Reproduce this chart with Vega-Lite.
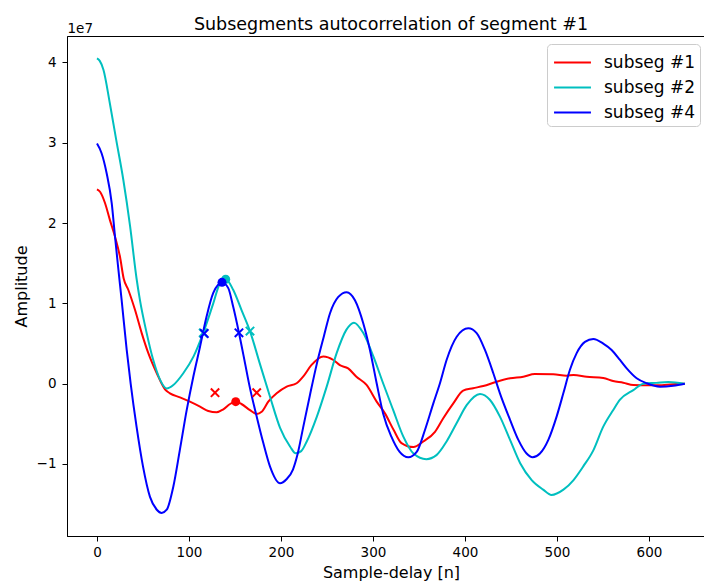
{
  "$schema": "https://vega.github.io/schema/vega-lite/v6.json",
  "width": 638,
  "height": 500,
  "autosize": "none",
  "padding": {"left": 67, "top": 36, "right": 0, "bottom": 47},
  "background": "white",
  "config": {
    "font": "DejaVu Sans",
    "view": {"stroke": "black", "strokeWidth": 1},
    "axis": {
      "grid": false,
      "domainColor": "black",
      "tickColor": "black",
      "labelColor": "black",
      "titleColor": "black",
      "labelFont": "DejaVu Sans",
      "titleFont": "DejaVu Sans",
      "labelFontSize": 13.5,
      "titleFontSize": 16,
      "titleFontWeight": "normal",
      "tickSize": 5,
      "tickWidth": 1
    }
  },
  "title": {
    "text": "Subsegments autocorrelation of segment #1",
    "font": "DejaVu Sans",
    "fontSize": 17.5,
    "fontWeight": "normal",
    "color": "black",
    "dx": 5,
    "offset": -12
  },
  "datasets": {
    "curves": [
      {"series": "subseg #1", "n": 0, "amp": 2.42e7},
      {"series": "subseg #1", "n": 3.3, "amp": 2.39e7},
      {"series": "subseg #1", "n": 8.7, "amp": 2.25e7},
      {"series": "subseg #1", "n": 14, "amp": 2.04e7},
      {"series": "subseg #1", "n": 19.6, "amp": 1.83e7},
      {"series": "subseg #1", "n": 25, "amp": 1.58e7},
      {"series": "subseg #1", "n": 29, "amp": 1.31e7},
      {"series": "subseg #1", "n": 34, "amp": 1.17e7},
      {"series": "subseg #1", "n": 41.3, "amp": 0.92e7},
      {"series": "subseg #1", "n": 48.6, "amp": 0.63e7},
      {"series": "subseg #1", "n": 55.8, "amp": 0.38e7},
      {"series": "subseg #1", "n": 65, "amp": 0.13e7},
      {"series": "subseg #1", "n": 73.9, "amp": -0.07e7},
      {"series": "subseg #1", "n": 79.3, "amp": -0.12e7},
      {"series": "subseg #1", "n": 90.2, "amp": -0.17e7},
      {"series": "subseg #1", "n": 101, "amp": -0.224e7},
      {"series": "subseg #1", "n": 112, "amp": -0.286e7},
      {"series": "subseg #1", "n": 121, "amp": -0.34e7},
      {"series": "subseg #1", "n": 130, "amp": -0.356e7},
      {"series": "subseg #1", "n": 137.3, "amp": -0.32e7},
      {"series": "subseg #1", "n": 144.6, "amp": -0.253e7},
      {"series": "subseg #1", "n": 150.8, "amp": -0.224e7},
      {"series": "subseg #1", "n": 157, "amp": -0.253e7},
      {"series": "subseg #1", "n": 166.3, "amp": -0.33e7},
      {"series": "subseg #1", "n": 173.6, "amp": -0.377e7},
      {"series": "subseg #1", "n": 179, "amp": -0.35e7},
      {"series": "subseg #1", "n": 186.2, "amp": -0.224e7},
      {"series": "subseg #1", "n": 195.3, "amp": -0.12e7},
      {"series": "subseg #1", "n": 206.2, "amp": -0.037e7},
      {"series": "subseg #1", "n": 217, "amp": 0.005e7},
      {"series": "subseg #1", "n": 224.3, "amp": 0.09e7},
      {"series": "subseg #1", "n": 233, "amp": 0.23e7},
      {"series": "subseg #1", "n": 246, "amp": 0.34e7},
      {"series": "subseg #1", "n": 257, "amp": 0.295e7},
      {"series": "subseg #1", "n": 264, "amp": 0.23e7},
      {"series": "subseg #1", "n": 273, "amp": 0.19e7},
      {"series": "subseg #1", "n": 282, "amp": 0.087e7},
      {"series": "subseg #1", "n": 293, "amp": -0.016e7},
      {"series": "subseg #1", "n": 304, "amp": -0.224e7},
      {"series": "subseg #1", "n": 313, "amp": -0.37e7},
      {"series": "subseg #1", "n": 322.5, "amp": -0.577e7},
      {"series": "subseg #1", "n": 331, "amp": -0.74e7},
      {"series": "subseg #1", "n": 344, "amp": -0.79e7},
      {"series": "subseg #1", "n": 354.7, "amp": -0.72e7},
      {"series": "subseg #1", "n": 367.4, "amp": -0.6e7},
      {"series": "subseg #1", "n": 376.4, "amp": -0.43e7},
      {"series": "subseg #1", "n": 387.3, "amp": -0.245e7},
      {"series": "subseg #1", "n": 398, "amp": -0.087e7},
      {"series": "subseg #1", "n": 408.8, "amp": -0.057e7},
      {"series": "subseg #1", "n": 419.9, "amp": -0.029e7},
      {"series": "subseg #1", "n": 434.5, "amp": 0.025e7},
      {"series": "subseg #1", "n": 449, "amp": 0.067e7},
      {"series": "subseg #1", "n": 463.4, "amp": 0.087e7},
      {"series": "subseg #1", "n": 476, "amp": 0.12e7},
      {"series": "subseg #1", "n": 496, "amp": 0.117e7},
      {"series": "subseg #1", "n": 510.5, "amp": 0.1e7},
      {"series": "subseg #1", "n": 518, "amp": 0.108e7},
      {"series": "subseg #1", "n": 532.3, "amp": 0.087e7},
      {"series": "subseg #1", "n": 550.3, "amp": 0.071e7},
      {"series": "subseg #1", "n": 561, "amp": 0.033e7},
      {"series": "subseg #1", "n": 572, "amp": 0.0125e7},
      {"series": "subseg #1", "n": 583, "amp": -0.016e7},
      {"series": "subseg #1", "n": 597.5, "amp": -0.02e7},
      {"series": "subseg #1", "n": 612, "amp": -0.02e7},
      {"series": "subseg #1", "n": 634, "amp": 0},
      {"series": "subseg #1", "n": 639, "amp": 0},

      {"series": "subseg #2", "n": 0, "amp": 4.05e7},
      {"series": "subseg #2", "n": 3, "amp": 4.02e7},
      {"series": "subseg #2", "n": 7, "amp": 3.91e7},
      {"series": "subseg #2", "n": 14, "amp": 3.49e7},
      {"series": "subseg #2", "n": 21, "amp": 3.03e7},
      {"series": "subseg #2", "n": 28.6, "amp": 2.54e7},
      {"series": "subseg #2", "n": 36, "amp": 1.96e7},
      {"series": "subseg #2", "n": 43, "amp": 1.31e7},
      {"series": "subseg #2", "n": 46.7, "amp": 1.04e7},
      {"series": "subseg #2", "n": 54, "amp": 0.63e7},
      {"series": "subseg #2", "n": 61, "amp": 0.3e7},
      {"series": "subseg #2", "n": 68.5, "amp": 0.05e7},
      {"series": "subseg #2", "n": 75.7, "amp": -0.06e7},
      {"series": "subseg #2", "n": 83, "amp": -0.016e7},
      {"series": "subseg #2", "n": 93.8, "amp": 0.13e7},
      {"series": "subseg #2", "n": 105, "amp": 0.34e7},
      {"series": "subseg #2", "n": 115.5, "amp": 0.633e7},
      {"series": "subseg #2", "n": 126.4, "amp": 1.0e7},
      {"series": "subseg #2", "n": 133.7, "amp": 1.25e7},
      {"series": "subseg #2", "n": 140, "amp": 1.3e7},
      {"series": "subseg #2", "n": 148, "amp": 1.17e7},
      {"series": "subseg #2", "n": 157, "amp": 0.92e7},
      {"series": "subseg #2", "n": 166.3, "amp": 0.655e7},
      {"series": "subseg #2", "n": 177, "amp": 0.25e7},
      {"series": "subseg #2", "n": 188, "amp": -0.16e7},
      {"series": "subseg #2", "n": 199, "amp": -0.55e7},
      {"series": "subseg #2", "n": 210, "amp": -0.785e7},
      {"series": "subseg #2", "n": 216, "amp": -0.867e7},
      {"series": "subseg #2", "n": 222, "amp": -0.84e7},
      {"series": "subseg #2", "n": 228, "amp": -0.72e7},
      {"series": "subseg #2", "n": 239, "amp": -0.41e7},
      {"series": "subseg #2", "n": 249.6, "amp": -0.04e7},
      {"series": "subseg #2", "n": 260.5, "amp": 0.38e7},
      {"series": "subseg #2", "n": 271, "amp": 0.67e7},
      {"series": "subseg #2", "n": 279.3, "amp": 0.76e7},
      {"series": "subseg #2", "n": 289.5, "amp": 0.63e7},
      {"series": "subseg #2", "n": 300.4, "amp": 0.34e7},
      {"series": "subseg #2", "n": 311, "amp": 0.005e7},
      {"series": "subseg #2", "n": 322, "amp": -0.33e7},
      {"series": "subseg #2", "n": 333, "amp": -0.66e7},
      {"series": "subseg #2", "n": 344, "amp": -0.87e7},
      {"series": "subseg #2", "n": 358, "amp": -0.94e7},
      {"series": "subseg #2", "n": 369, "amp": -0.89e7},
      {"series": "subseg #2", "n": 380, "amp": -0.72e7},
      {"series": "subseg #2", "n": 391, "amp": -0.49e7},
      {"series": "subseg #2", "n": 402, "amp": -0.265e7},
      {"series": "subseg #2", "n": 416.3, "amp": -0.128e7},
      {"series": "subseg #2", "n": 427, "amp": -0.2e7},
      {"series": "subseg #2", "n": 438, "amp": -0.41e7},
      {"series": "subseg #2", "n": 449, "amp": -0.7e7},
      {"series": "subseg #2", "n": 460, "amp": -0.99e7},
      {"series": "subseg #2", "n": 472.5, "amp": -1.2e7},
      {"series": "subseg #2", "n": 485, "amp": -1.32e7},
      {"series": "subseg #2", "n": 494, "amp": -1.386e7},
      {"series": "subseg #2", "n": 507, "amp": -1.32e7},
      {"series": "subseg #2", "n": 518, "amp": -1.2e7},
      {"series": "subseg #2", "n": 528.6, "amp": -1.03e7},
      {"series": "subseg #2", "n": 539.5, "amp": -0.83e7},
      {"series": "subseg #2", "n": 550.3, "amp": -0.535e7},
      {"series": "subseg #2", "n": 561, "amp": -0.33e7},
      {"series": "subseg #2", "n": 568.5, "amp": -0.2e7},
      {"series": "subseg #2", "n": 583, "amp": -0.08e7},
      {"series": "subseg #2", "n": 594, "amp": 0},
      {"series": "subseg #2", "n": 608, "amp": 0.01e7},
      {"series": "subseg #2", "n": 621, "amp": 0.02e7},
      {"series": "subseg #2", "n": 639, "amp": 0},

      {"series": "subseg #4", "n": 0, "amp": 2.99e7},
      {"series": "subseg #4", "n": 5, "amp": 2.87e7},
      {"series": "subseg #4", "n": 10.5, "amp": 2.62e7},
      {"series": "subseg #4", "n": 16, "amp": 2.25e7},
      {"series": "subseg #4", "n": 19.6, "amp": 1.83e7},
      {"series": "subseg #4", "n": 23, "amp": 1.45e7},
      {"series": "subseg #4", "n": 26.8, "amp": 1.04e7},
      {"series": "subseg #4", "n": 32.3, "amp": 0.42e7},
      {"series": "subseg #4", "n": 36.6, "amp": 0},
      {"series": "subseg #4", "n": 43, "amp": -0.535e7},
      {"series": "subseg #4", "n": 50, "amp": -1.03e7},
      {"series": "subseg #4", "n": 57.6, "amp": -1.41e7},
      {"series": "subseg #4", "n": 65, "amp": -1.57e7},
      {"series": "subseg #4", "n": 70.3, "amp": -1.61e7},
      {"series": "subseg #4", "n": 75.8, "amp": -1.57e7},
      {"series": "subseg #4", "n": 83, "amp": -1.28e7},
      {"series": "subseg #4", "n": 90, "amp": -0.83e7},
      {"series": "subseg #4", "n": 97.5, "amp": -0.33e7},
      {"series": "subseg #4", "n": 104.7, "amp": 0.087e7},
      {"series": "subseg #4", "n": 112, "amp": 0.46e7},
      {"series": "subseg #4", "n": 119, "amp": 0.83e7},
      {"series": "subseg #4", "n": 126.4, "amp": 1.13e7},
      {"series": "subseg #4", "n": 136, "amp": 1.26e7},
      {"series": "subseg #4", "n": 142.7, "amp": 1.19e7},
      {"series": "subseg #4", "n": 148, "amp": 0.96e7},
      {"series": "subseg #4", "n": 154.3, "amp": 0.634e7},
      {"series": "subseg #4", "n": 161, "amp": 0.25e7},
      {"series": "subseg #4", "n": 166, "amp": -0.04e7},
      {"series": "subseg #4", "n": 173.6, "amp": -0.41e7},
      {"series": "subseg #4", "n": 180.8, "amp": -0.74e7},
      {"series": "subseg #4", "n": 188, "amp": -1.03e7},
      {"series": "subseg #4", "n": 199, "amp": -1.24e7},
      {"series": "subseg #4", "n": 206, "amp": -1.19e7},
      {"series": "subseg #4", "n": 213, "amp": -1.07e7},
      {"series": "subseg #4", "n": 218, "amp": -0.88e7},
      {"series": "subseg #4", "n": 224, "amp": -0.55e7},
      {"series": "subseg #4", "n": 231.5, "amp": -0.14e7},
      {"series": "subseg #4", "n": 239, "amp": 0.25e7},
      {"series": "subseg #4", "n": 246.5, "amp": 0.585e7},
      {"series": "subseg #4", "n": 253.3, "amp": 0.877e7},
      {"series": "subseg #4", "n": 262.3, "amp": 1.08e7},
      {"series": "subseg #4", "n": 271.4, "amp": 1.14e7},
      {"series": "subseg #4", "n": 280.4, "amp": 1.04e7},
      {"series": "subseg #4", "n": 289.5, "amp": 0.75e7},
      {"series": "subseg #4", "n": 296.7, "amp": 0.42e7},
      {"series": "subseg #4", "n": 304, "amp": 0.005e7},
      {"series": "subseg #4", "n": 311, "amp": -0.37e7},
      {"series": "subseg #4", "n": 320, "amp": -0.66e7},
      {"series": "subseg #4", "n": 329, "amp": -0.85e7},
      {"series": "subseg #4", "n": 338.4, "amp": -0.917e7},
      {"series": "subseg #4", "n": 347.5, "amp": -0.85e7},
      {"series": "subseg #4", "n": 356.5, "amp": -0.577e7},
      {"series": "subseg #4", "n": 365.6, "amp": -0.245e7},
      {"series": "subseg #4", "n": 372.8, "amp": 0.005e7},
      {"series": "subseg #4", "n": 380, "amp": 0.295e7},
      {"series": "subseg #4", "n": 391, "amp": 0.585e7},
      {"series": "subseg #4", "n": 403.6, "amp": 0.69e7},
      {"series": "subseg #4", "n": 412.7, "amp": 0.63e7},
      {"series": "subseg #4", "n": 421.7, "amp": 0.42e7},
      {"series": "subseg #4", "n": 430.8, "amp": 0.13e7},
      {"series": "subseg #4", "n": 438, "amp": -0.12e7},
      {"series": "subseg #4", "n": 449, "amp": -0.45e7},
      {"series": "subseg #4", "n": 458, "amp": -0.7e7},
      {"series": "subseg #4", "n": 467, "amp": -0.87e7},
      {"series": "subseg #4", "n": 473.5, "amp": -0.917e7},
      {"series": "subseg #4", "n": 481.5, "amp": -0.87e7},
      {"series": "subseg #4", "n": 490.6, "amp": -0.7e7},
      {"series": "subseg #4", "n": 499.6, "amp": -0.41e7},
      {"series": "subseg #4", "n": 506.9, "amp": -0.12e7},
      {"series": "subseg #4", "n": 514, "amp": 0.17e7},
      {"series": "subseg #4", "n": 521.4, "amp": 0.38e7},
      {"series": "subseg #4", "n": 530.4, "amp": 0.52e7},
      {"series": "subseg #4", "n": 539.5, "amp": 0.557e7},
      {"series": "subseg #4", "n": 550.3, "amp": 0.5e7},
      {"series": "subseg #4", "n": 559.4, "amp": 0.42e7},
      {"series": "subseg #4", "n": 568.5, "amp": 0.295e7},
      {"series": "subseg #4", "n": 575.8, "amp": 0.19e7},
      {"series": "subseg #4", "n": 586.6, "amp": 0.067e7},
      {"series": "subseg #4", "n": 597.5, "amp": 0.005e7},
      {"series": "subseg #4", "n": 612, "amp": -0.037e7},
      {"series": "subseg #4", "n": 626.4, "amp": -0.025e7},
      {"series": "subseg #4", "n": 639, "amp": 0}
    ],
    "peaks": [
      {"series": "subseg #1", "n": 150.8, "amp": -0.224e7},
      {"series": "subseg #2", "n": 139.9, "amp": 1.3e7},
      {"series": "subseg #4", "n": 135.9, "amp": 1.262e7}
    ],
    "halves": [
      {"series": "subseg #1", "n": 128.3, "amp": -0.112e7},
      {"series": "subseg #1", "n": 173.6, "amp": -0.112e7},
      {"series": "subseg #2", "n": 115.5, "amp": 0.633e7},
      {"series": "subseg #2", "n": 166.3, "amp": 0.655e7},
      {"series": "subseg #4", "n": 116.6, "amp": 0.625e7},
      {"series": "subseg #4", "n": 154.3, "amp": 0.634e7}
    ]
  },
  "resolve": {"axis": {"x": "independent"}},
  "layer": [
    {
      "data": {"name": "curves"},
      "mark": {"type": "line", "strokeWidth": 2, "interpolate": "monotone"},
      "encoding": {
        "x": {
          "field": "n", "type": "quantitative",
          "scale": {"domain": [-32.6, 660.9], "nice": false, "zero": false},
          "axis": {
            "values": [0, 100, 200, 300, 400, 500, 600],
            "title": "Sample-delay [n]",
            "labelPadding": 4,
            "titlePadding": 6,
            "titleX": 324,
            "titleAnchor": null
          }
        },
        "y": {
          "field": "amp", "type": "quantitative",
          "scale": {"domain": [-1.897e7, 4.33e7], "nice": false, "zero": false},
          "axis": {
            "values": [-1e7, 0, 1e7, 2e7, 3e7, 4e7],
            "labelExpr": "format(datum.value / 1e7, 'd')",
            "title": "Amplitude",
            "labelPadding": 6,
            "titlePadding": 7
          }
        },
        "color": {
          "field": "series", "type": "nominal",
          "scale": {"domain": ["subseg #1", "subseg #2", "subseg #4"], "range": ["#ff0000", "#00bfbf", "#0000ff"]},
          "legend": {
            "title": null,
            "orient": "none",
            "legendX": 480,
            "legendY": 8,
            "symbolType": "M-1.5,0L1.5,0",
            "symbolSize": 605,
            "symbolStrokeWidth": 2,
            "symbolOffset": 7,
            "symbolFillColor": "transparent",
            "labelFontSize": 17,
            "labelFont": "DejaVu Sans",
            "labelColor": "black",
            "labelOffset": 18,
            "padding": 5,
            "rowPadding": 3,
            "strokeColor": "#cccccc",
            "fillColor": "white",
            "cornerRadius": 4
          }
        }
      }
    },
    {
      "mark": {"type": "rule", "color": "black", "strokeWidth": 2},
      "encoding": {"y": {"datum": 0}}
    },
    {
      "data": {"name": "halves"},
      "mark": {"type": "point", "shape": "M-1,-1L1,1M-1,1L1,-1", "size": 70, "strokeWidth": 2, "filled": false, "opacity": 1},
      "encoding": {
        "x": {"field": "n", "type": "quantitative", "axis": null},
        "y": {"field": "amp", "type": "quantitative"},
        "color": {"field": "series", "type": "nominal", "legend": null}
      }
    },
    {
      "data": {"name": "peaks"},
      "mark": {"type": "circle", "size": 81, "opacity": 1},
      "encoding": {
        "x": {
          "field": "n", "type": "quantitative",
          "axis": {
            "orient": "top",
            "domain": false,
            "ticks": false,
            "labels": false,
            "title": "1e7",
            "titleX": 0,
            "titleY": -4,
            "titleAngle": 0,
            "titleAlign": "left",
            "titleAnchor": null,
            "titleBaseline": "alphabetic",
            "titleFontSize": 13.5
          }
        },
        "y": {"field": "amp", "type": "quantitative"},
        "color": {"field": "series", "type": "nominal", "legend": null}
      }
    }
  ]
}
